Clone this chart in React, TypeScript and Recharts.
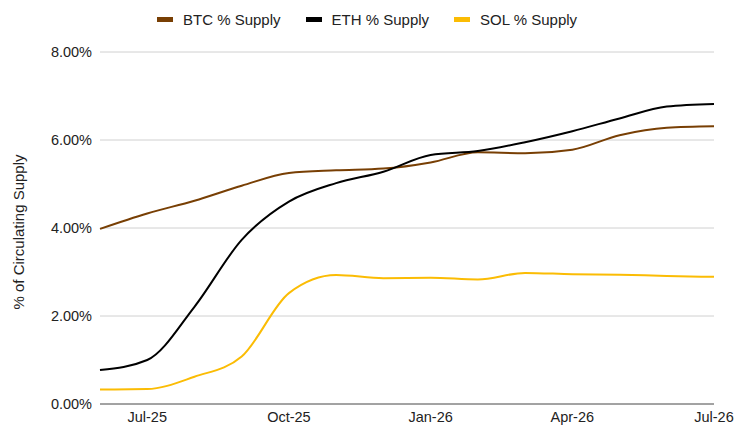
import React from 'react';
import { LineChart, Line, XAxis, YAxis, CartesianGrid } from 'recharts';

const months = [
  'Jun-25', 'Jul-25', 'Aug-25', 'Sep-25', 'Oct-25', 'Nov-25', 'Dec-25',
  'Jan-26', 'Feb-26', 'Mar-26', 'Apr-26', 'May-26', 'Jun-26', 'Jul-26',
];
const btcSupply = [3.98, 4.33, 4.62, 4.96, 5.25, 5.31, 5.35, 5.49, 5.72, 5.70, 5.78, 6.11, 6.28, 6.31];
const ethSupply = [0.77, 1.0, 2.21, 3.73, 4.6, 5.02, 5.28, 5.66, 5.75, 5.95, 6.2, 6.49, 6.76, 6.82];
const solSupply = [0.33, 0.34, 0.62, 1.08, 2.52, 2.93, 2.86, 2.87, 2.83, 2.98, 2.95, 2.94, 2.91, 2.89];
const yTicks = [0, 2, 4, 6, 8];
const xTicks = [1, 4, 7, 10, 13];

const series = [
  { key: 'btc', name: 'BTC % Supply', color: '#783f04' },
  { key: 'eth', name: 'ETH % Supply', color: '#000000' },
  { key: 'sol', name: 'SOL % Supply', color: '#fbbc04' },
];

const data = months.map((m, i) => ({
  i,
  month: m,
  btc: btcSupply[i],
  eth: ethSupply[i],
  sol: solSupply[i],
}));

const font = '"Liberation Sans", Arial, sans-serif';

export default function App() {
  return (
    <div style={{ position: 'absolute', left: 0, top: 0, width: 746, height: 436, background: '#fff', fontFamily: font }}>
      <div style={{ position: 'absolute', left: 157, top: 11, display: 'flex', alignItems: 'center', fontSize: 15, color: '#222' }}>
        {series.map((s, idx) => (
          <div key={s.key} style={{ display: 'flex', alignItems: 'center', marginLeft: idx === 0 ? 0 : 25 }}>
            <div style={{ width: 16, height: 5, background: s.color, marginRight: 10 }} />
            <span>{s.name}</span>
          </div>
        ))}
      </div>
      <div
        style={{
          position: 'absolute',
          left: 18,
          top: 232,
          transform: 'translate(-50%, -50%) rotate(-90deg)',
          whiteSpace: 'nowrap',
          fontSize: 15,
          color: '#222',
        }}
      >
        % of Circulating Supply
      </div>
      <LineChart width={746} height={436} data={data} margin={{ top: 52, right: 32, bottom: 2, left: 40 }}>
        <CartesianGrid vertical={false} stroke="#d0d0d0" />
        <XAxis
          dataKey="i"
          type="number"
          domain={[0, 13]}
          ticks={xTicks}
          tickFormatter={(v) => months[v]}
          tickLine={false}
          axisLine={{ stroke: '#5f5f5f' }}
          height={30}
          tick={{ fill: '#222', fontSize: 14.5, fontFamily: font }}
        />
        <YAxis
          domain={[0, 8]}
          ticks={yTicks}
          tickFormatter={(v) => `${v.toFixed(2)}%`}
          tickLine={false}
          axisLine={false}
          width={60}
          tick={{ fill: '#222', fontSize: 14.5, fontFamily: font }}
        />
        {series.map((s) => (
          <Line
            key={s.key}
            type="monotone"
            dataKey={s.key}
            name={s.name}
            stroke={s.color}
            strokeWidth={2}
            dot={false}
            isAnimationActive={false}
          />
        ))}
      </LineChart>
    </div>
  );
}
